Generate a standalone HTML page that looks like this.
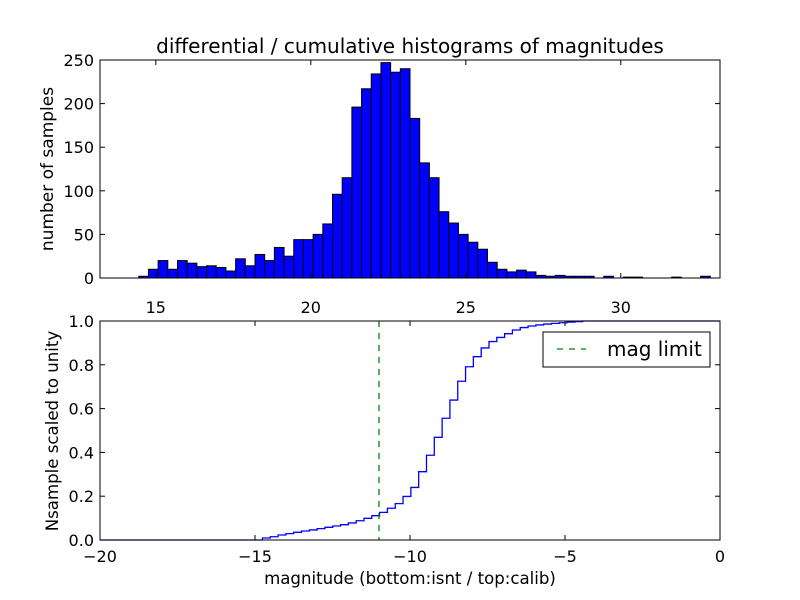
<!DOCTYPE html>
<html><head><meta charset="utf-8"><style>
html,body{margin:0;padding:0;background:#fff}
svg{display:block;font-family:"DejaVu Sans","Liberation Sans",sans-serif}
</style></head><body>
<svg id="fig" width="800" height="600" viewBox="0 0 800 600">
<rect width="800" height="600" fill="#fff"/>
<text x="410" y="53" font-size="20" text-anchor="middle">differential / cumulative histograms of magnitudes</text>
<g id="topPanel"></g>
<g id="botPanel"></g>
<text transform="translate(53,169) rotate(-90)" font-size="17" text-anchor="middle">number of samples</text>
<text transform="translate(58,431) rotate(-90)" font-size="16.6" text-anchor="middle">Nsample scaled to unity</text>
<text x="410" y="584" font-size="16.6" text-anchor="middle">magnitude (bottom:isnt / top:calib)</text>
</svg>
<script>
const histStart = 14.45;
const histBinWidth = 0.3125;
const histCounts = [2,10,20,10,20,17,13,14,12,8,22,14,27,20,35,25,44,44,50,62,96,115,196,217,234,247,236,240,183,132,115,76,63,50,41,33,18,10,7,9,7,3,2,3,2,2,2,0,2,0,1,1,0,0,0,1,0,0,2,0];
const topXTicks = [15,20,25,30];
const topYTicks = [0,50,100,150,200,250];
const cumStart = -14.76;
const cumStep = 0.252;
const cumValues = [0.009,0.015,0.023,0.029,0.035,0.041,0.046,0.052,0.058,0.064,0.070,0.078,0.088,0.099,0.111,0.126,0.145,0.166,0.199,0.240,0.312,0.387,0.469,0.556,0.639,0.725,0.791,0.837,0.877,0.906,0.925,0.942,0.959,0.970,0.977,0.982,0.986,0.989,0.992,0.995,0.997,1.0];
const botXTicks = [-20,-15,-10,-5,0];
const botYTicks = [0,0.2,0.4,0.6,0.8,1.0];
const magLimit = -11;

const NS="http://www.w3.org/2000/svg";
function mk(parent,tag,attrs){const e=document.createElementNS(NS,tag);for(const k in attrs)e.setAttribute(k,attrs[k]);parent.appendChild(e);return e;}

const T={x0:100,x1:720,y0:60,y1:278,xmin:13.2,xmax:33.2,ymin:0,ymax:250};
const tx=v=>T.x0+(v-T.xmin)/(T.xmax-T.xmin)*(T.x1-T.x0);
const ty=v=>T.y1-(v-T.ymin)/(T.ymax-T.ymin)*(T.y1-T.y0);
const topG=document.getElementById('topPanel');
histCounts.forEach((c,i)=>{
  if(c<=0)return;
  const a=tx(histStart+i*histBinWidth),b=tx(histStart+(i+1)*histBinWidth);
  const r=mk(topG,'rect',{x:a,y:ty(c),width:b-a,height:ty(0)-ty(c),fill:'#0000ff',stroke:'#000','stroke-width':1});
  
  
});
const tf=mk(topG,'rect',{x:T.x0,y:T.y0,width:T.x1-T.x0,height:T.y1-T.y0,fill:'none',stroke:'#000','stroke-width':1});


topXTicks.forEach(v=>{
  const x=tx(v);
  mk(topG,'line',{x1:x,x2:x,y1:T.y1,y2:T.y1-5,stroke:'#000'});
  mk(topG,'line',{x1:x,x2:x,y1:T.y0,y2:T.y0+5,stroke:'#000'});
  const t=mk(topG,'text',{x:x,y:313,'font-size':16,'text-anchor':'middle'});t.textContent=v;
  
  
});
topYTicks.forEach(v=>{
  const y=ty(v);
  mk(topG,'line',{x1:T.x0,x2:T.x0+5,y1:y,y2:y,stroke:'#000'});
  mk(topG,'line',{x1:T.x1,x2:T.x1-5,y1:y,y2:y,stroke:'#000'});
  const t=mk(topG,'text',{x:94,y:y+6,'font-size':16,'text-anchor':'end'});t.textContent=v;
  
  
});

const B={x0:100,x1:720,y0:321,y1:540,xmin:-20,xmax:0,ymin:0,ymax:1};
const bx=v=>B.x0+(v-B.xmin)/(B.xmax-B.xmin)*(B.x1-B.x0);
const by=v=>B.y1-(v-B.ymin)/(B.ymax-B.ymin)*(B.y1-B.y0);
const botG=document.getElementById('botPanel');
let d=`M${bx(B.xmin)},${by(0)} L${bx(cumStart)},${by(0)}`;
cumValues.forEach((v,i)=>{
  const a=bx(cumStart+i*cumStep),b=bx(cumStart+(i+1)*cumStep);
  d+=` L${a},${by(v)} L${b},${by(v)}`;
});
d+=` L${bx(B.xmax)},${by(cumValues[cumValues.length-1])}`;
const cl=mk(botG,'path',{d:d,fill:'none',stroke:'#0000ff','stroke-width':1.3});


const ml=mk(botG,'line',{x1:bx(magLimit),x2:bx(magLimit),y1:B.y0,y2:B.y1,stroke:'#007f00','stroke-width':1.3,'stroke-dasharray':'6,6'});


const bf=mk(botG,'rect',{x:B.x0,y:B.y0,width:B.x1-B.x0,height:B.y1-B.y0,fill:'none',stroke:'#000','stroke-width':1});


botXTicks.forEach(v=>{
  const x=bx(v);
  mk(botG,'line',{x1:x,x2:x,y1:B.y1,y2:B.y1-5,stroke:'#000'});
  mk(botG,'line',{x1:x,x2:x,y1:B.y0,y2:B.y0+5,stroke:'#000'});
  const t=mk(botG,'text',{x:x,y:562,'font-size':16,'text-anchor':'middle'});t.textContent=(v<0?'\u2212'+(-v):v);
  
  
});
botYTicks.forEach(v=>{
  const y=by(v);
  mk(botG,'line',{x1:B.x0,x2:B.x0+5,y1:y,y2:y,stroke:'#000'});
  mk(botG,'line',{x1:B.x1,x2:B.x1-5,y1:y,y2:y,stroke:'#000'});
  const t=mk(botG,'text',{x:94,y:y+6,'font-size':16,'text-anchor':'end'});t.textContent=v.toFixed(1);
  
  
});
const lg=mk(botG,'g',{});


mk(lg,'rect',{x:543,y:332,width:167,height:35,fill:'#fff',stroke:'#000'});
mk(lg,'line',{x1:557,x2:586,y1:349,y2:349,stroke:'#007f00','stroke-width':1.3,'stroke-dasharray':'6,6'});
const lt=mk(lg,'text',{x:607,y:356,'font-size':20});lt.textContent='mag limit';


</script>
</body></html>
